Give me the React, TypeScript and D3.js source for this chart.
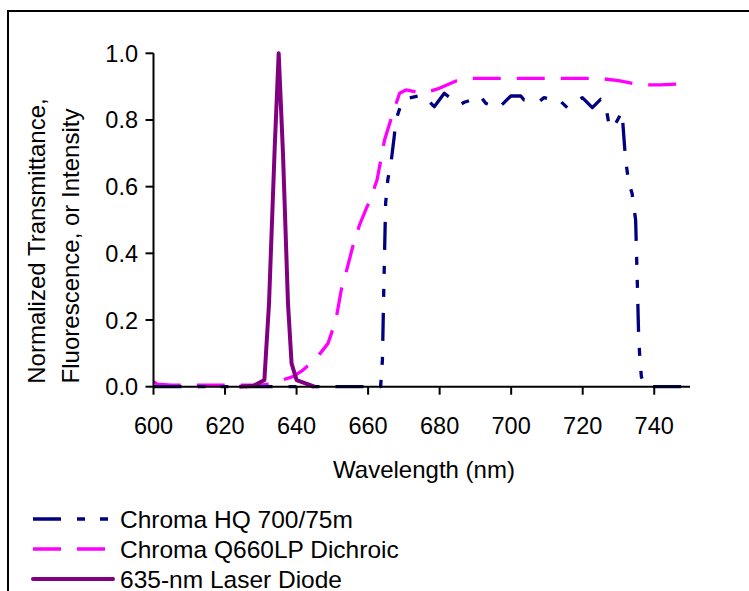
import React from "react";
import * as d3 from "d3";

const hqNm = [600, 610, 620, 630, 640, 650, 660, 663.5, 664, 664.4, 664.9, 665.5, 666.5, 667.3, 667.8, 669, 670.2, 671, 675.3, 678.5, 681.3, 685.5, 686.9, 691.5, 692.9, 696.6, 699.9, 702.7, 703.6, 707.8, 709.2, 713.9, 715.7, 719.9, 722.7, 725, 726.4, 727.3, 728.5, 731, 731.5, 732, 732.9, 733.8, 734.8, 735.3, 735.6, 735.9, 736.4, 737.3, 738, 745, 750];
const hqVal = [0, 0, 0, 0, 0, 0, 0, 0, 0.08, 0.3, 0.55, 0.62, 0.68, 0.75, 0.8, 0.84, 0.855, 0.865, 0.875, 0.84, 0.88, 0.845, 0.853, 0.87, 0.85, 0.837, 0.872, 0.872, 0.86, 0.855, 0.867, 0.855, 0.837, 0.867, 0.837, 0.862, 0.845, 0.79, 0.775, 0.825, 0.75, 0.68, 0.61, 0.58, 0.5, 0.3, 0.17, 0.1, 0.03, 0.005, 0, 0, 0];

const dichNm = [600, 601, 605, 620, 630, 634, 636, 639, 641.8, 645.5, 648.8, 651, 652.5, 653.9, 655.7, 657.6, 659.5, 660.4, 662.5, 664.6, 666.9, 668.8, 670.6, 673, 675.3, 679.9, 684.6, 687.4, 700, 715, 724.5, 730, 732.9, 736.2, 741.7, 746.9, 749, 750];
const dichVal = [0.015, 0.008, 0.005, 0.005, 0.005, 0.01, 0.02, 0.03, 0.05, 0.085, 0.13, 0.2, 0.29, 0.345, 0.42, 0.485, 0.535, 0.555, 0.62, 0.74, 0.82, 0.88, 0.89, 0.885, 0.88, 0.895, 0.917, 0.925, 0.925, 0.925, 0.925, 0.918, 0.912, 0.905, 0.905, 0.908, 0.912, 0.913];

const laserNm = [624, 628, 631, 632.3, 633.9, 635, 636.2, 637.6, 638.6, 640, 645];
const laserVal = [0, 0.003, 0.02, 0.25, 0.72, 1.0, 0.7, 0.25, 0.07, 0.02, 0];

const xTicks = [600, 620, 640, 660, 680, 700, 720, 740];
const yTicks = [0, 0.2, 0.4, 0.6, 0.8, 1.0];

const seriesNames = ["Chroma HQ 700/75m", "Chroma Q660LP Dichroic", "635-nm Laser Diode"];
const seriesColors = ["#000080", "#FF00FF", "#800080"];
const seriesDash = ["28,16,8,15,8,16", "28,16", null];
const seriesWidth = [3.3, 3.3, 4];

const FONT = "'Liberation Sans', Arial, sans-serif";

export default function App() {
  const x = d3.scaleLinear().domain([600, 750]).range([153.5, 690]);
  const y = d3.scaleLinear().domain([0, 1]).range([386.7, 53.3]);
  const line = d3
    .line<[number, number]>()
    .x((d) => x(d[0]))
    .y((d) => y(d[1]));

  const series = [
    hqNm.map((n, i) => [n, hqVal[i]] as [number, number]),
    dichNm.map((n, i) => [n, dichVal[i]] as [number, number]),
    laserNm.map((n, i) => [n, laserVal[i]] as [number, number]),
  ];

  const legendY = [519, 549, 579];

  return (
    <svg
      width={749}
      height={591}
      style={{ position: "absolute", left: 0, top: 0, background: "#fff" }}
      fontFamily={FONT}
    >
      <rect x={0} y={0} width={749} height={591} fill="#fff" />
      <path d="M8,600 V11 H760" fill="none" stroke="#000" strokeWidth={2} />

      {[1, 0, 2].map((si) => (
        <path
          key={si}
          d={line(series[si]) || ""}
          fill="none"
          stroke={seriesColors[si]}
          strokeWidth={seriesWidth[si]}
          strokeDasharray={seriesDash[si] || undefined}
          strokeLinejoin="round"
        />
      ))}

      <line x1={x(600)} x2={x(750)} y1={y(0)} y2={y(0)} stroke="#000" strokeWidth={2} />
      <line x1={x(600)} x2={x(600)} y1={y(0)} y2={y(1)} stroke="#000" strokeWidth={2} />
      {xTicks.map((t) => (
        <g key={t}>
          <line x1={x(t)} x2={x(t)} y1={y(0)} y2={y(0) + 8} stroke="#000" strokeWidth={2} />
          <text x={x(t)} y={433.5} textAnchor="middle" fontSize={23.5} fill="#000">
            {t}
          </text>
        </g>
      ))}
      {yTicks.map((t) => (
        <g key={t}>
          <line x1={x(600) - 8} x2={x(600)} y1={y(t)} y2={y(t)} stroke="#000" strokeWidth={2} />
          <text x={138} y={y(t) + 8.5} textAnchor="end" fontSize={23.5} fill="#000">
            {t.toFixed(1)}
          </text>
        </g>
      ))}

      <text x={424} y={478} textAnchor="middle" fontSize={24} fill="#000">
        Wavelength (nm)
      </text>
      <text transform="translate(45,241) rotate(-90)" textAnchor="middle" fontSize={24} fill="#000">
        Normalized Transmittance,
      </text>
      <text transform="translate(79,246) rotate(-90)" textAnchor="middle" fontSize={24} fill="#000">
        Fluorescence, or Intensity
      </text>

      {seriesNames.map((nm, i) => (
        <g key={nm}>
          <line
            x1={33}
            x2={i === 2 ? 113 : 110}
            y1={legendY[i]}
            y2={legendY[i]}
            stroke={seriesColors[i]}
            strokeWidth={seriesWidth[i]}
            strokeDasharray={seriesDash[i] || undefined}
            strokeLinecap={i === 2 ? "round" : "butt"}
          />
          <text x={120} y={legendY[i] + 9} fontSize={24.5} fill="#000">
            {nm}
          </text>
        </g>
      ))}
    </svg>
  );
}
